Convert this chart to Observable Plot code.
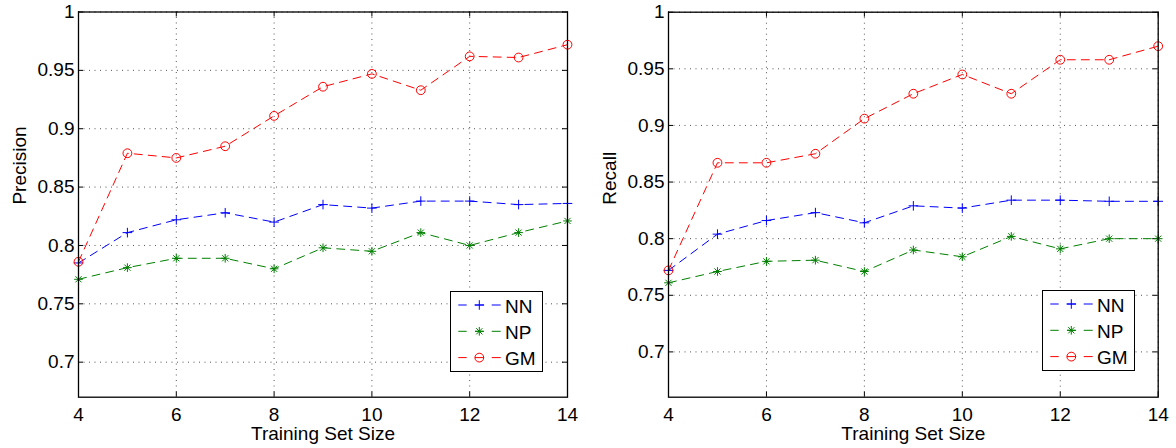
<!DOCTYPE html>
<html><head><meta charset="utf-8">
<script src="https://cdn.jsdelivr.net/npm/d3@7"></script>
<script src="https://cdn.jsdelivr.net/npm/@observablehq/plot@0.6"></script>
<style>
html,body{margin:0;padding:0;background:#fff;}
#wrap{position:relative;width:1176px;height:448px;overflow:hidden;font-family:"Liberation Sans",Arial,Helvetica,sans-serif;}
.panel{position:absolute;top:0;width:588px;height:448px;}
.legend{position:absolute;background:#fff;border:1px solid #000;box-sizing:border-box;}
.legend svg{display:block;}
</style></head><body><div id="wrap"></div>
<script>
// ---- data ----
const trainingSizes = [4, 5, 6, 7, 8, 9, 10, 11, 12, 13, 14];
const precisionNN = [0.785, 0.811, 0.822, 0.828, 0.820, 0.835, 0.832, 0.838, 0.838, 0.835, 0.836];
const precisionNP = [0.771, 0.781, 0.789, 0.789, 0.780, 0.798, 0.795, 0.811, 0.800, 0.811, 0.821];
const precisionGM = [0.786, 0.879, 0.875, 0.885, 0.911, 0.936, 0.947, 0.933, 0.962, 0.961, 0.972];
const recallNN = [0.772, 0.804, 0.816, 0.823, 0.814, 0.829, 0.827, 0.834, 0.834, 0.833, 0.833];
const recallNP = [0.761, 0.771, 0.780, 0.781, 0.771, 0.790, 0.784, 0.802, 0.791, 0.800, 0.800];
const recallGM = [0.772, 0.867, 0.867, 0.875, 0.906, 0.928, 0.945, 0.928, 0.958, 0.958, 0.970];
const seriesNames = ["NN", "NP", "GM"];
const xTicks = [4, 6, 8, 10, 12, 14];
const yTicks = [0.7, 0.75, 0.8, 0.85, 0.9, 0.95, 1];
const xLabel = "Training Set Size";

// ---- styles ----
const seriesColors = ["#0000ff", "#008000", "#ff0000"];
// each series marker is built from one or more symbols (MATLAB '*' = plus + times)
const seriesMarkers = [
  [["plus", 3.2]],
  [["plus", 2.9], ["times", 2.9]],
  [["circle", 4.4]]
];
const FONT = '"Liberation Sans", Arial, Helvetica, sans-serif';
const W = 588, H = 448;
const GRID = {stroke: "#555", strokeOpacity: 1, strokeWidth: 1, strokeDasharray: "1,4.5"};

const panels = [
  {left: 0, label: "Precision", values: [precisionNN, precisionNP, precisionGM], yDomain: [0.67, 1],
   mL: 78, mR: 21, mT: 11.5, mB: 51.3, labelDx: -59, legend: {x: 450, y: 291}},
  {left: 588, label: "Recall", values: [recallNN, recallNP, recallGM], yDomain: [0.66, 1],
   mL: 80, mR: 18.3, mT: 11.7, mB: 51.3, labelDx: -59, legend: {x: 1041.7, y: 290.3}}
];

const wrap = document.getElementById("wrap");
const symMap = {plus: d3.symbolPlus, times: d3.symbolTimes, circle: d3.symbolCircle};

for (const p of panels) {
  const rows = seriesNames.flatMap((name, i) => trainingSizes.map((x, j) => ({series: name, x, y: p.values[i][j]})));
  const pw = W - p.mL - p.mR, ph = H - p.mT - p.mB;
  const dots = seriesNames.flatMap((name, i) => seriesMarkers[i].map(([sym, r]) =>
    Plot.dot(rows.filter(d => d.series === name), {
      x: "x", y: "y", symbol: () => sym, stroke: "series", r, strokeWidth: 1, fill: "none"
    })));
  const chart = Plot.plot({
    width: W, height: H,
    marginLeft: p.mL, marginRight: p.mR, marginTop: p.mT, marginBottom: p.mB,
    x: {domain: [4, 14], axis: null},
    y: {domain: p.yDomain, axis: null},
    color: {domain: seriesNames, range: seriesColors},
    symbol: {domain: ["plus", "times", "circle"], range: ["plus", "times", "circle"]},
    style: {fontFamily: FONT, fontSize: "19px", color: "#000", background: "transparent", overflow: "visible"},
    marks: [
      Plot.gridX(xTicks, GRID),
      Plot.gridY(yTicks, GRID),
      Plot.tickX(xTicks, {x: d => d, insetTop: ph - 5, stroke: "#000"}),
      Plot.tickX(xTicks, {x: d => d, insetBottom: ph - 5, stroke: "#000"}),
      Plot.tickY(yTicks, {y: d => d, insetRight: pw - 5, stroke: "#000"}),
      Plot.tickY(yTicks, {y: d => d, insetLeft: pw - 5, stroke: "#000"}),
      Plot.line(rows, {x: "x", y: "y", z: "series", stroke: "series", strokeWidth: 1, strokeDasharray: "8,6"}),
      ...dots,
      Plot.axisX(xTicks, {tickSize: 0, tickPadding: 10, fontSize: 19, label: null}),
      Plot.axisY(yTicks, {tickSize: 0, tickPadding: 4, fontSize: 19, tickFormat: d => String(d), label: null}),
      Plot.text([p.label], {frameAnchor: "left", rotate: -90, dx: p.labelDx, fontSize: 19}),
      Plot.text([xLabel], {frameAnchor: "bottom", dy: 43, lineAnchor: "bottom", fontSize: 19}),
      Plot.frame({stroke: "#000", strokeWidth: 1.3})
    ]
  });
  const div = document.createElement("div");
  div.className = "panel";
  div.style.left = p.left + "px";
  div.appendChild(chart);
  wrap.appendChild(div);

  // legend
  const lw = 93, lh = 81;
  const lg = document.createElement("div");
  lg.className = "legend";
  lg.style.left = p.legend.x + "px";
  lg.style.top = p.legend.y + "px";
  lg.style.width = lw + "px";
  lg.style.height = lh + "px";
  const svg = d3.create("svg").attr("width", lw - 2).attr("height", lh - 2);
  seriesNames.forEach((name, i) => {
    const cy = 13 + i * 26.3;
    const g = svg.append("g").attr("stroke", seriesColors[i]).attr("fill", "none");
    for (const [a, b] of [[7.3, 15.7], [24, 33], [40.7, 49.7]]) {
      g.append("line").attr("x1", a).attr("x2", b).attr("y1", cy).attr("y2", cy).attr("stroke-width", 1);
    }
    for (const [sym, r] of seriesMarkers[i]) {
      g.append("path").attr("transform", `translate(28.3,${cy})`)
        .attr("d", d3.symbol(symMap[sym], r * r * Math.PI)());
    }
    svg.append("text").attr("x", 54).attr("y", cy + 7.5).attr("font-family", FONT).attr("font-size", 19)
      .attr("fill", "#000").text(name);
  });
  lg.appendChild(svg.node());
  wrap.appendChild(lg);
}
</script></body></html>
